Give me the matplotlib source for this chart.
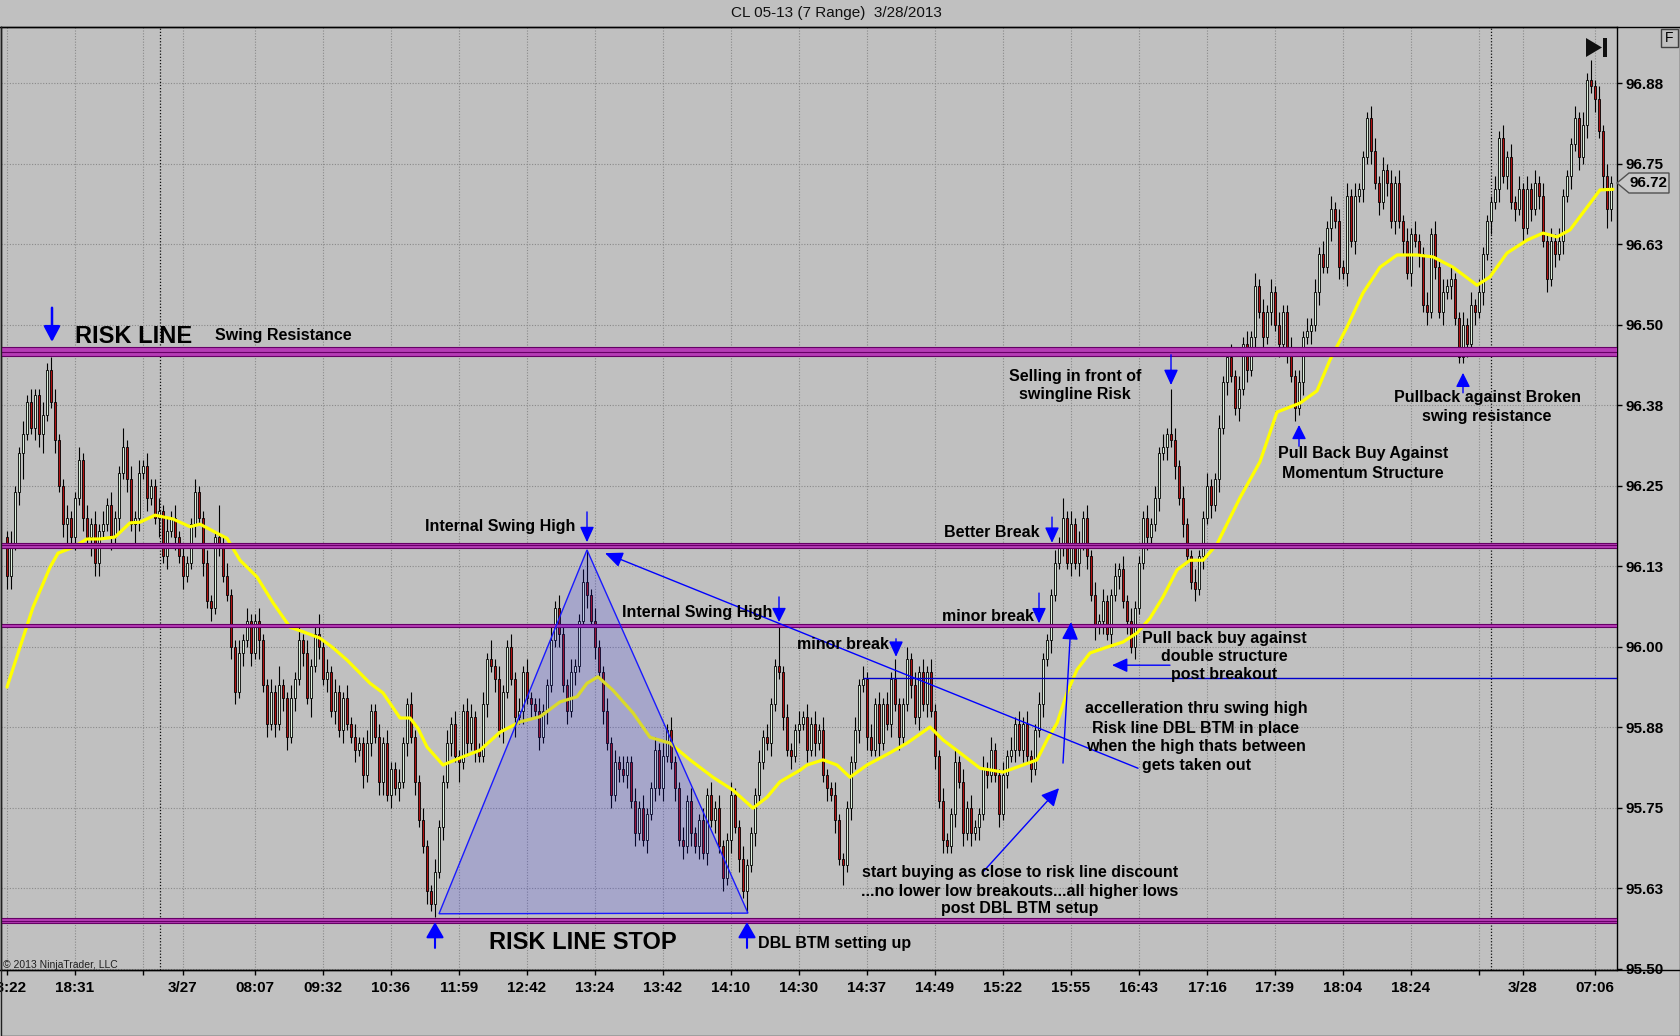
import numpy as np
import matplotlib.pyplot as plt
from matplotlib.patches import Polygon, Rectangle
from matplotlib.lines import Line2D

plt.rcParams['font.family'] = ['Liberation Sans', 'DejaVu Sans']

W, H = 1680, 1036
BG = '#c0c0c0'
BLUE = '#0000ff'

# range bar closes, cents above 95.00 (open of each bar = previous close)
first_open = 117
close_a = [111, 116, 124, 130, 133, 138, 134, 139, 133, 136,
           143, 138, 132, 125, 119, 120, 117, 123, 129, 120,
           117, 119, 113, 118, 119, 122, 117, 120, 127, 131,
           126, 119, 120, 127, 128, 123, 125, 120, 121, 114,
           118, 120, 117, 114, 111, 113, 119, 124, 120, 113,
           107, 106, 117, 116, 111, 108, 100, 93, 99, 101,
           104, 99, 104, 101, 94, 88, 93, 88, 94, 92,
           86, 92, 95, 101, 99, 92, 97, 102, 100, 95,
           96, 90, 93, 87, 92, 88, 86, 84, 85, 80,
           85, 90, 86, 79, 85, 77, 81, 78, 79, 85]
close_b = [91, 86, 79, 73, 69, 62, 60, 65, 72, 79,
           85, 88, 83, 82, 90, 85, 89, 84, 83, 91,
           98, 97, 95, 87, 93, 100, 95, 89, 90, 96,
           92, 91, 90, 86, 90, 94, 101, 106, 102, 94,
           90, 96, 97, 104, 110, 108, 104, 100, 96, 90,
           85, 77, 82, 81, 80, 82, 76, 71, 75, 70,
           74, 78, 84, 78, 83, 87, 82, 78, 70, 69,
           76, 71, 69, 73, 68, 77, 73, 75, 69, 64,
           70, 77, 72, 67, 62, 66, 71, 77, 82, 86,
           85, 91, 97, 96, 89, 84, 83, 87, 88, 89]
close_c = [84, 88, 85, 87, 80, 78, 77, 73, 67, 66,
           75, 82, 87, 94, 95, 86, 84, 91, 85, 91,
           88, 95, 91, 86, 91, 98, 94, 89, 96, 91,
           96, 90, 83, 76, 70, 69, 74, 82, 79, 71,
           75, 71, 72, 74, 81, 80, 84, 80, 74, 80,
           83, 84, 88, 84, 88, 83, 81, 87, 91, 98,
           101, 108, 113, 116, 120, 113, 119, 113, 116, 120,
           114, 108, 103, 104, 107, 102, 108, 111, 112, 107,
           104, 100, 106, 113, 120, 117, 119, 123, 130, 131,
           133, 132, 128, 123, 119, 114, 110, 109, 114, 120]
close_d = [125, 122, 126, 134, 141, 145, 142, 137, 140, 147,
           143, 148, 156, 152, 148, 152, 155, 150, 147, 152,
           146, 142, 137, 141, 148, 149, 150, 155, 161, 159,
           165, 168, 166, 159, 158, 170, 163, 170, 171, 176,
           182, 177, 172, 169, 174, 172, 166, 172, 166, 163,
           158, 164, 163, 161, 153, 152, 164, 159, 152, 155,
           156, 157, 151, 145, 150, 147, 153, 152, 155, 161,
           166, 169, 171, 179, 173, 176, 169, 168, 171, 165,
           171, 168, 172, 170, 163, 157, 163, 161, 163, 170,
           173, 178, 182, 176, 181, 188, 187, 185, 180, 173,
           168, 172]

# wick lengths above / below the body, cents
wick_hi = [1, 2, 1, 1, 2, 1, 2, 1, 1, 2, 1, 2, 2, 1, 1, 2, 1, 1, 2, 1,
           2, 1, 2, 1, 2, 1, 2, 1, 1, 3, 1, 2, 1, 2, 1, 2, 1, 1, 2, 1,
           2, 1, 2, 1, 2, 1, 1, 2, 1, 1, 2, 1, 1, 5, 1, 2, 1, 1, 2, 1,
           2, 1, 1, 2, 1, 1, 2, 1, 3, 1, 1, 2, 1, 2, 1, 2, 1, 1, 3, 1,
           2, 1, 2, 1, 1, 2, 1, 2, 1, 1, 2, 1, 1, 2, 1, 2, 1, 1, 2, 1,
           1, 2, 1, 1, 2, 1, 1, 2, 1, 1, 2, 1, 2, 1, 1, 2, 2, 1, 1, 2,
           1, 3, 1, 2, 1, 1, 2, 1, 2, 1, 2, 1, 1, 2, 1, 1, 2, 1, 2, 1,
           1, 2, 1, 1, 2, 5, 1, 2, 1, 1, 2, 1, 2, 1, 2, 1, 1, 2, 1, 2,
           1, 1, 2, 1, 2, 1, 2, 1, 1, 2, 1, 2, 1, 1, 2, 1, 2, 1, 2, 1,
           1, 2, 1, 1, 2, 1, 1, 1, 2, 1, 2, 1, 1, 6, 1, 2, 1, 1, 2, 1,
           2, 1, 2, 1, 2, 1, 1, 2, 1, 1, 1, 1, 2, 1, 2, 1, 2, 1, 2, 1,
           2, 1, 3, 1, 1, 2, 1, 2, 1, 2, 1, 2, 1, 1, 2, 1, 1, 2, 1, 2,
           1, 2, 1, 1, 2, 1, 2, 1, 1, 2, 1, 2, 1, 2, 1, 2, 1, 1, 2, 1,
           1, 1, 2, 1, 3, 1, 2, 1, 2, 1, 2, 1, 2, 1, 2, 1, 1, 2, 1, 2,
           1, 2, 1, 1, 1, 2, 1, 2, 1, 2, 1, 7, 2, 1, 2, 1, 1, 2, 1, 1,
           2, 1, 1, 2, 1, 1, 2, 1, 2, 1, 2, 1, 2, 1, 2, 1, 2, 1, 2, 1,
           1, 2, 1, 2, 1, 2, 1, 2, 1, 2, 1, 2, 1, 2, 1, 2, 1, 2, 1, 1,
           1, 2, 2, 1, 2, 1, 2, 1, 2, 1, 2, 1, 2, 1, 1, 2, 1, 2, 1, 2,
           1, 2, 1, 1, 2, 1, 2, 1, 2, 1, 1, 1, 2, 1, 2, 1, 2, 1, 2, 1,
           2, 1, 2, 1, 2, 1, 2, 1, 2, 1, 1, 1, 2, 1, 2, 1, 3, 1, 2, 1,
           2, 1]
wick_lo = [2, 2, 1, 2, 4, 1, 1, 2, 2, 3, 1, 1, 2, 1, 2, 4, 1, 2, 1, 2,
           1, 3, 2, 2, 1, 1, 2, 1, 2, 1, 2, 1, 3, 2, 1, 2, 1, 1, 3, 1,
           2, 1, 2, 1, 2, 1, 1, 2, 1, 2, 1, 2, 1, 2, 1, 1, 2, 2, 1, 2,
           1, 2, 1, 3, 1, 2, 1, 2, 1, 2, 2, 1, 2, 1, 2, 1, 3, 1, 2, 1,
           2, 1, 2, 1, 2, 1, 1, 2, 1, 2, 1, 2, 1, 2, 2, 1, 2, 1, 2, 1,
           2, 1, 2, 1, 1, 2, 1, 2, 1, 2, 1, 2, 1, 3, 1, 2, 1, 2, 1, 1,
           2, 1, 2, 1, 2, 1, 1, 3, 1, 2, 1, 2, 1, 2, 1, 2, 1, 1, 2, 1,
           2, 1, 2, 1, 1, 2, 1, 2, 1, 2, 1, 2, 1, 2, 1, 2, 1, 2, 1, 1,
           2, 1, 2, 1, 2, 1, 1, 2, 1, 2, 1, 2, 1, 2, 1, 2, 1, 2, 1, 2,
           1, 2, 1, 2, 1, 3, 1, 2, 1, 1, 1, 2, 1, 1, 2, 1, 2, 1, 2, 1,
           2, 1, 2, 1, 1, 2, 1, 2, 1, 3, 1, 2, 1, 2, 1, 2, 1, 1, 2, 1,
           1, 2, 1, 2, 1, 1, 2, 1, 2, 1, 2, 1, 2, 1, 2, 1, 1, 2, 1, 2,
           1, 2, 1, 2, 1, 2, 1, 1, 2, 1, 2, 1, 2, 1, 2, 1, 2, 1, 1, 2,
           1, 2, 1, 1, 2, 1, 2, 1, 2, 1, 2, 1, 2, 1, 2, 1, 2, 1, 2, 1,
           2, 1, 2, 1, 1, 2, 1, 1, 2, 1, 2, 1, 2, 1, 2, 1, 1, 2, 1, 2,
           1, 2, 1, 2, 1, 2, 1, 1, 2, 1, 2, 1, 2, 1, 2, 1, 2, 1, 2, 1,
           2, 1, 2, 1, 2, 1, 2, 1, 2, 1, 1, 2, 1, 2, 1, 2, 1, 2, 1, 2,
           1, 2, 1, 2, 1, 2, 1, 2, 1, 2, 1, 2, 1, 2, 1, 2, 1, 2, 1, 2,
           1, 2, 1, 1, 1, 2, 1, 2, 1, 2, 1, 2, 1, 2, 1, 2, 1, 2, 1, 2,
           1, 2, 1, 2, 1, 2, 1, 2, 1, 2, 1, 2, 1, 2, 1, 2, 1, 2, 1, 2,
           3, 2]

# yellow indicator line (bar index, cents above 95.00)
ma_bar = [0, 3.25, 6.5, 10.75, 12.75, 16.5, 20, 23.25, 27, 30.75,
          33.25, 37, 41.5, 45.75, 48.25, 52.5, 55, 58.25, 62.5, 66.5,
          70.75, 74, 78.25, 81.5, 85, 90.75, 94, 98.25, 100.75, 102.75,
          105, 109, 113.25, 118.25, 123.25, 128.25, 133.25, 138.25, 142.5, 145,
          147.75, 151.5, 156.5, 160.75, 165.75, 170.75, 176.5, 181.5, 186.5, 190,
          193.25, 198.25, 200, 204, 207.5, 210.75, 215, 220.75, 225, 230.75,
          234, 238.25, 243.25, 249, 254, 257.5, 260, 262.5, 265, 267.5,
          270.75, 275, 279, 282.5, 285.75, 289, 292.5, 295.75, 299, 302.5,
          308.25, 313.25, 317.5, 323.25, 327.5, 330.75, 335, 339, 343.25, 347.5,
          352.5, 356.5, 361.5, 367.5, 370.75, 375, 380, 384, 387.5, 390.75,
          395, 398.25, 401.5]
ma_val = [93.7, 99.9, 106.1, 112.3, 114.5, 115.4, 116.7, 116.7, 117.0, 119.2,
          119.3, 120.4, 119.8, 118.6, 119.0, 117.6, 116.8, 113.4, 110.8, 106.8,
          103.0, 102.3, 101.3, 99.8, 97.9, 94.3, 92.8, 88.9, 88.9, 87.3,
          84.4, 81.6, 82.7, 83.9, 86.7, 88.3, 89.1, 91.4, 92.2, 94.3,
          95.3, 93.2, 89.7, 85.9, 85.0, 82.4, 79.7, 77.7, 74.9, 76.6,
          79.0, 80.8, 81.6, 82.4, 81.6, 79.7, 81.6, 83.5, 85.0, 87.5,
          85.5, 83.5, 81.1, 80.5, 81.6, 82.4, 85.5, 88.1, 92.8, 96.4,
          99.0, 99.9, 100.7, 102.1, 104.4, 107.7, 111.9, 113.4, 113.4, 115.9,
          123.1, 128.7, 136.4, 137.8, 139.7, 144.5, 149.6, 154.9, 158.9, 160.8,
          160.8, 160.5, 158.9, 156.1, 157.4, 161.1, 163.1, 164.2, 163.6, 164.7,
          168.2, 170.9, 171.0]

x_ticks = [0, 17, 34, 44, 62, 79, 96, 113, 130, 147, 164, 181, 198,
           215, 232, 249, 266, 283, 300, 317, 334, 351, 368, 379, 397]
x_labels = ['18:22', '18:31', '', '3/27', '08:07', '09:32', '10:36', '11:59',
            '12:42', '13:24', '13:42', '14:10', '14:30', '14:37', '14:49',
            '15:22', '15:55', '16:43', '17:16', '17:39', '18:04', '18:24',
            '', '3/28', '07:06']
day_breaks = [38.25, 371]
y_ticks = [95.5, 95.625, 95.75, 95.875, 96.0, 96.125, 96.25, 96.375,
           96.5, 96.625, 96.75, 96.875]
y_labels = ['95.50', '95.63', '95.75', '95.88', '96.00', '96.13', '96.25',
            '96.38', '96.50', '96.63', '96.75', '96.88']
last_price = '96.72'

# drawn levels
risk_line = (96.451, 96.465)
swing_line = (96.153, 96.161)
inner_line = (96.030, 96.035)
stop_line = (95.571, 95.578)
break_line = 95.951
break_start = 214

closes = np.array(close_a + close_b + close_c + close_d) / 100 + 95
opens = np.concatenate([[95 + first_open / 100], closes[:-1]])
highs = np.maximum(opens, closes) + np.array(wick_hi) / 100
lows = np.minimum(opens, closes) - np.array(wick_lo) / 100
bars = np.arange(len(closes))
up = closes >= opens


def fx(x):
    return x / W


def fy(y):
    return 1 - y / H


fig = plt.figure(figsize=(W / 100, H / 100), dpi=100, facecolor=BG)
ax = fig.add_axes([fx(1), fy(970), 1616 / W, 943 / H])
ax.set_facecolor(BG)
ax.set_xlim(-1.5, 402.5)
ax.set_ylim(95.4977, 96.962)

ax.set_xticks(x_ticks, x_labels)
ax.set_yticks(y_ticks, y_labels)
ax.yaxis.tick_right()
ax.tick_params(axis='y', length=3.6, width=1, pad=2.2, labelsize=11)
ax.tick_params(axis='x', length=3.6, width=1, pad=4, labelsize=11)
for t in ax.get_xticklabels() + ax.get_yticklabels():
    t.set_fontweight('bold')
ax.grid(True, color='#8a8a8a', linestyle=(0, (1, 1.5)), linewidth=0.8)
ax.set_axisbelow(True)
for b in day_breaks:
    ax.axvline(b, color='#101010', linestyle=(0, (1, 1.5)), linewidth=0.9, zorder=1)
for s in ax.spines.values():
    s.set_color('black')
    s.set_linewidth(1)

# candles
ax.vlines(bars, lows, highs, color='black', linewidth=0.8, zorder=3)
body = np.maximum(np.abs(closes - opens), 0.002)
ax.bar(bars, body, bottom=np.minimum(opens, closes), width=0.68,
       color=['#dcf0dc' if u else '#b01010' for u in up],
       edgecolor='black', linewidth=0.6, zorder=4)

# yellow line
ax.plot(ma_bar, np.array(ma_val) / 100 + 95, color='#ffff00', linewidth=2.3,
        solid_joinstyle='round', solid_capstyle='round', zorder=5)


def band(lim, n):
    ax.axhspan(lim[0], lim[1], color='#b53cb5', linewidth=0, zorder=6)
    for p in np.linspace(lim[0], lim[1], n):
        ax.axhline(p, color='#660066', linewidth=0.8, zorder=6)


band(risk_line, 3)
band(swing_line, 3)
band(inner_line, 2)
band(stop_line, 3)
ax.hlines(break_line, break_start, 402.5, color='#0000cc', linewidth=1, zorder=6)

# triangle (double bottom / internal swing high)
tri = Polygon([(108, 95.585), (145, 96.150), (185.25, 95.586)], closed=True,
              facecolor=(0.15, 0.15, 1.0, 0.17), edgecolor='#1a1aff',
              linewidth=1, zorder=7)
ax.add_patch(tri)


def arrow(tail, tip, hl=13, hw=12, lw=1.0):
    ms = 10
    style = '-|>,head_length=%.2f,head_width=%.2f' % (hl / 1.389 / ms, hw / 2 / 1.389 / ms)
    ax.annotate('', xy=tip, xytext=tail,
                arrowprops=dict(arrowstyle=style, color=BLUE, lw=lw,
                                shrinkA=0, shrinkB=0, mutation_scale=ms),
                zorder=8)


arrow((11.25, 96.526), (11.25, 96.473), 13, 14, 1.8)
arrow((145, 96.209), (145, 96.162))
arrow((193, 96.077), (193, 96.038), 12, 12)
arrow((222.25, 96.012), (222.25, 95.984))
arrow((258, 96.083), (258, 96.036))
arrow((261.25, 96.201), (261.25, 96.161))
arrow((291, 96.453), (291, 96.406))
arrow((323, 96.311), (323, 96.344), 12, 12)
arrow((364, 96.394), (364, 96.425), 12, 12)
arrow((107, 95.532), (107, 95.572), 13, 15, 1.5)
arrow((185, 95.532), (185, 95.572), 13, 15, 1.5)
arrow((290.75, 95.971), (276.25, 95.971))
arrow((264, 95.819), (266, 96.038), 15, 14)
arrow((244, 95.650), (263, 95.780), 15, 15)
arrow((282.75, 95.811), (149.5, 96.145), 15, 13)

# notes
TS = 11.5


def note(x, y, s, size=TS, ha='left'):
    ax.text(x, y, s, fontsize=size, fontweight='bold', ha=ha, va='baseline', zorder=9)


def block(x, ys, lines):
    for y, s in zip(ys, lines):
        note(x, y, s, ha='center')


note(17, 96.471, 'RISK LINE', 17)
note(52, 96.476, 'Swing Resistance')
note(104.5, 96.179, 'Internal Swing High')
note(153.75, 96.046, 'Internal Swing High')
note(197.5, 95.996, 'minor break')
note(233.75, 96.040, 'minor break')
note(234.25, 96.170, 'Better Break')
note(120.4, 95.530, 'RISK LINE STOP', 17)
note(187.75, 95.532, 'DBL BTM setting up')
block(267, [96.412, 96.384], ['Selling in front of', 'swingline Risk'])
block(339, [96.292, 96.262], ['Pull Back Buy Against', 'Momentum Structure'])
block(370, [96.379, 96.350], ['Pullback against Broken', 'swing resistance'])
block(304.25, [96.006, 95.977, 95.949],
      ['Pull back buy against', 'double structure', 'post breakout'])
block(297.25, [95.896, 95.866, 95.838, 95.808],
      ['accelleration thru swing high', 'Risk line DBL BTM in place',
       'when the high thats between', 'gets taken out'])
block(253.25, [95.642, 95.613, 95.586],
      ['start buying as close to risk line discount',
       '...no lower low breakouts...all higher lows', 'post DBL BTM setup'])

# frame and chrome
for y in (27, 970):
    fig.add_artist(Line2D([0, 1], [fy(y), fy(y)], transform=fig.transFigure,
                          color='black', linewidth=1))
fig.add_artist(Line2D([fx(0.5), fx(0.5), fx(1679.5), fx(1679.5)],
                      [fy(27), fy(1035.5), fy(1035.5), fy(27)],
                      transform=fig.transFigure, color='#202020', linewidth=1))

fig.text(fx(836), fy(13), 'CL 05-13 (7 Range)  3/28/2013', ha='center', va='center',
         fontsize=11, color='#101010')
fig.text(fx(3), fy(968), '\u00a9 2013 NinjaTrader, LLC', fontsize=7.5,
         va='baseline', color='#202020')

marker = Polygon([(fx(1617), fy(183)), (fx(1629), fy(173)), (fx(1669), fy(173)),
                  (fx(1669), fy(193)), (fx(1629), fy(193))], closed=True,
                 transform=fig.transFigure, facecolor='#c8c8c8', edgecolor='#505050',
                 linewidth=1)
fig.add_artist(marker)
fig.text(fx(1648), fy(183), last_price, ha='center', va='center', fontsize=11,
         fontweight='bold')

fig.add_artist(Rectangle((fx(1661), fy(47)), 17 / W, 18 / H, transform=fig.transFigure,
                         facecolor='none', edgecolor='#404040', linewidth=1))
fig.text(fx(1669.5), fy(38), 'F', ha='center', va='center', fontsize=10)

fig.add_artist(Polygon([(fx(1586), fy(38)), (fx(1586), fy(57)), (fx(1602), fy(47.5))],
                       closed=True, transform=fig.transFigure, facecolor='#101010',
                       edgecolor='none'))
fig.add_artist(Rectangle((fx(1603), fy(57)), 4 / W, 19 / H, transform=fig.transFigure,
                         facecolor='#101010', edgecolor='none'))

fig.savefig('out.png', dpi=100, facecolor=BG)
